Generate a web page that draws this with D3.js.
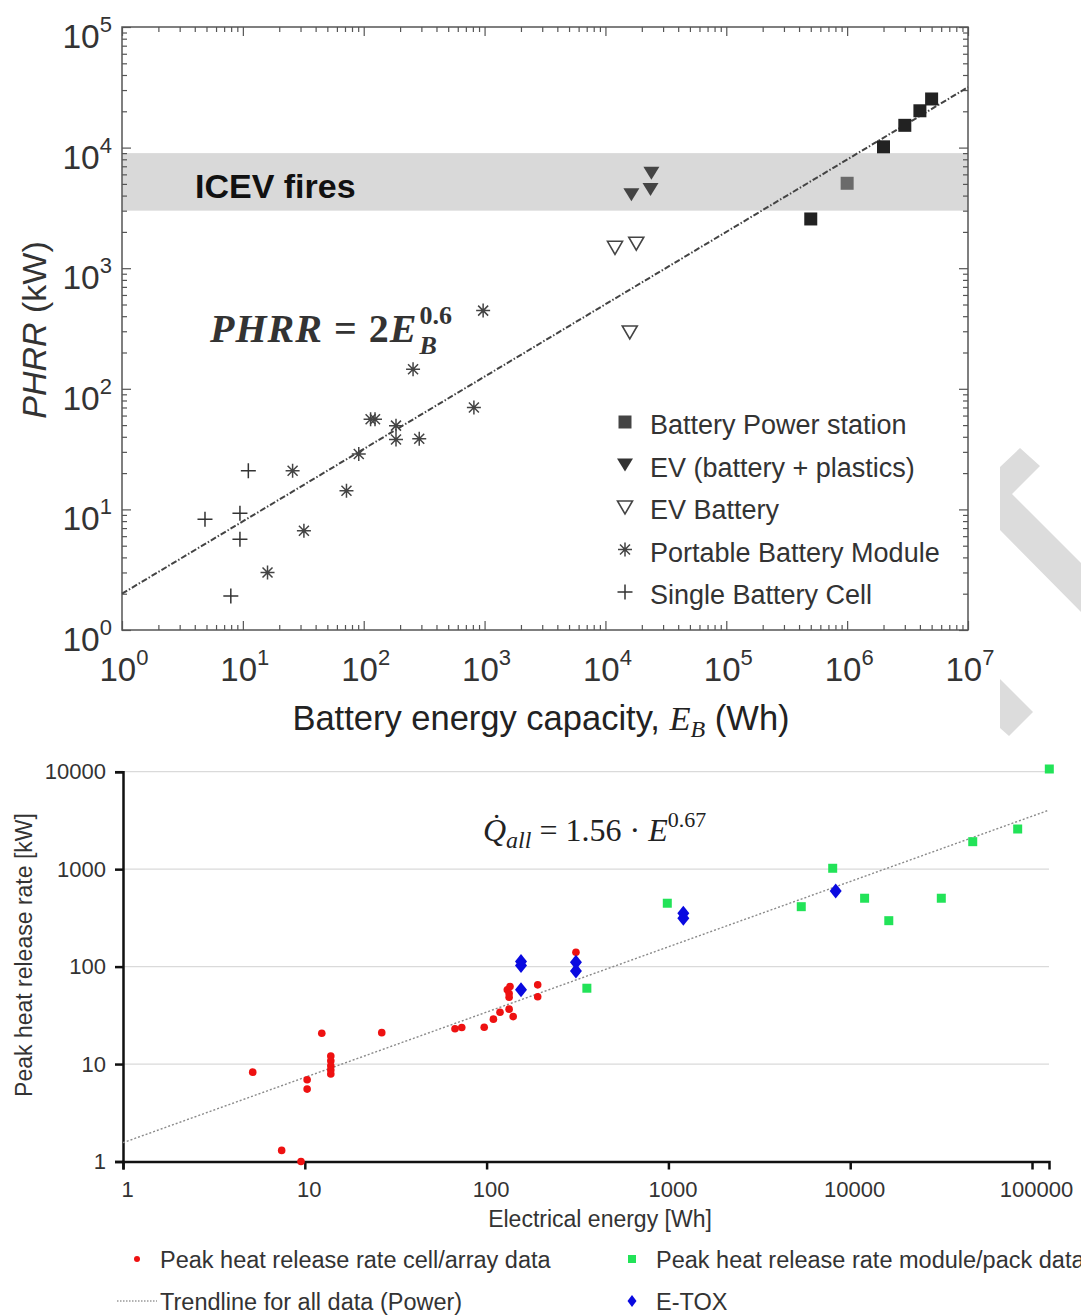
<!DOCTYPE html>
<html><head><meta charset="utf-8">
<script src="https://cdn.jsdelivr.net/npm/d3@7"></script>
<style>body{margin:0;background:#fff}</style>
</head><body>
<svg id="c" width="1081" height="1316" xmlns="http://www.w3.org/2000/svg"></svg>
<script>
// ---------- TOP CHART DATA ----------
const stationE = [5e5, 2e6, 3e6, 4e6, 5e6];
const stationP = [2560, 10150, 15300, 20200, 25300];
const stationGrayE = [1e6];
const stationGrayP = [5060];
const evPlasticE = [16400, 23600, 24000];
const evPlasticP = [4100, 4540, 6200];
const evBatteryE = [12000, 18000, 15900];
const evBatteryP = [1490, 1610, 296];
const moduleE = [973, 256, 816, 114, 124, 185, 185, 288, 91, 72, 25.8, 32, 16];
const moduleP = [445, 145, 70, 56, 56, 49.5, 38, 38.5, 28.8, 14.3, 20.9, 6.65, 3.0];
const cellE = [11.1, 4.86, 9.46, 9.46, 7.95];
const cellP = [20.9, 8.3, 9.3, 5.65, 1.91];
const icevBand = [3000, 9000];
const topFitA = 2, topFitB = 0.6;
const topXExp = [0, 1, 2, 3, 4, 5, 6, 7];
const topYExp = [0, 1, 2, 3, 4, 5];
const topLegend = ["Battery Power station", "EV (battery + plastics)", "EV Battery", "Portable Battery Module", "Single Battery Cell"];

// ---------- BOTTOM CHART DATA ----------
const cellArrE = [5.17, 7.46, 9.53, 10.3, 10.3, 12.4, 13.9, 13.9, 13.9, 13.9, 13.9, 26.5, 67, 73, 97, 109, 118.5, 133, 140, 130, 134.5, 133, 133, 191, 191, 310];
const cellArrQ = [8.26, 1.30, 1.0, 6.9, 5.53, 20.7, 12.1, 10.8, 9.6, 8.7, 7.9, 21, 23, 23.7, 23.9, 28.9, 34, 36.6, 30.7, 57.7, 62.4, 53, 48.5, 65, 49, 140.6];
const packE = [356, 986, 5380, 8010, 12000, 16300, 31700, 47200, 83400, 124500];
const packQ = [60, 447, 412, 1021, 503, 296, 503, 1914, 2582, 10660];
const etoxE = [154.6, 154.6, 154.6, 310, 310, 1208, 1208, 8320];
const etoxQ = [112.5, 102.4, 57.7, 111, 90, 353, 313, 597];
const botFitA = 1.56, botFitB = 0.67;
const botXTicks = [1, 10, 100, 1000, 10000, 100000];
const botYTicks = [1, 10, 100, 1000, 10000];
const botLegend = ["Peak heat release rate cell/array data", "Peak heat release rate module/pack data", "Trendline for all data (Power)", "E-TOX"];

const svg = d3.select("#c");
const SANS = "'Liberation Sans', Arial, Helvetica, sans-serif";
const SERIF = "'Liberation Serif', 'Times New Roman', serif";

// ================= TOP CHART =================
const tx = d3.scaleLog().domain([1, 1e7]).range([122, 968]);
const ty = d3.scaleLog().domain([1, 1e5]).range([630, 27]);
const topG = svg.append("g");

// ICEV band
topG.append("rect").attr("x", tx(1)).attr("width", tx(1e7) - tx(1))
  .attr("y", ty(icevBand[1])).attr("height", ty(icevBand[0]) - ty(icevBand[1]))
  .attr("fill", "#d9d9d9");
topG.append("text").attr("x", 195).attr("y", 198).attr("font-family", SANS)
  .attr("font-weight", "bold").attr("font-size", 34).attr("fill", "#111").text("ICEV fires");

// ticks (inward, all four sides)
function minorTicks(lo, hi) {
  const out = [];
  for (let e = lo; e < hi; e++) for (let m = 2; m <= 9; m++) out.push(m * Math.pow(10, e));
  return out;
}
const xMaj = topXExp.map(e => Math.pow(10, e));
const yMaj = topYExp.map(e => Math.pow(10, e));
const xMin = minorTicks(0, 7), yMin = minorTicks(0, 5);
function tickAxis(axisFn, scale, vals, len, tr) {
  const g = topG.append("g").attr("transform", tr)
    .call(axisFn(scale).tickValues(vals).tickSize(-len).tickFormat(""));
  g.select(".domain").remove();
  g.selectAll(".tick line").attr("stroke", "#555").attr("stroke-width", 1.2);
}
tickAxis(d3.axisBottom, tx, xMaj, 9, "translate(0,630)");
tickAxis(d3.axisBottom, tx, xMin, 5, "translate(0,630)");
tickAxis(d3.axisTop, tx, xMaj, 9, "translate(0,27)");
tickAxis(d3.axisTop, tx, xMin, 5, "translate(0,27)");
tickAxis(d3.axisLeft, ty, yMaj, 9, "translate(122,0)");
tickAxis(d3.axisLeft, ty, yMin, 5, "translate(122,0)");
tickAxis(d3.axisRight, ty, yMaj, 9, "translate(968,0)");
tickAxis(d3.axisRight, ty, yMin, 5, "translate(968,0)");
topG.append("rect").attr("x", 122).attr("y", 27).attr("width", 846).attr("height", 603)
  .attr("fill", "none").attr("stroke", "#555").attr("stroke-width", 1.5);

// tick labels
topYExp.forEach(e => {
  const t = topG.append("text").attr("x", 112).attr("y", ty(Math.pow(10, e)) + 21)
    .attr("text-anchor", "end").attr("font-family", SANS).attr("fill", "#333").attr("font-size", 33.5);
  t.append("tspan").text("10");
  t.append("tspan").attr("font-size", 22).attr("dy", -16).text(e);
});
topXExp.forEach(e => {
  const t = topG.append("text").attr("x", tx(Math.pow(10, e)) + 2).attr("y", 681)
    .attr("text-anchor", "middle").attr("font-family", SANS).attr("fill", "#333").attr("font-size", 33);
  t.append("tspan").text("10");
  t.append("tspan").attr("font-size", 22).attr("dy", -16).text(e);
});

// axis titles
const yl = topG.append("text").attr("transform", "translate(46,330) rotate(-90)")
  .attr("text-anchor", "middle").attr("font-family", SANS).attr("font-size", 34).attr("fill", "#333");
yl.append("tspan").attr("font-style", "italic").text("PHRR");
yl.append("tspan").text(" (kW)");
const xl = topG.append("text").attr("x", 541).attr("y", 730).attr("text-anchor", "middle")
  .attr("font-family", SANS).attr("font-size", 34.5).attr("fill", "#222");
xl.append("tspan").text("Battery energy capacity, ");
xl.append("tspan").attr("font-family", SERIF).attr("font-style", "italic").text("E");
xl.append("tspan").attr("font-family", SERIF).attr("font-style", "italic").attr("font-size", 24).attr("dy", 7).text("B");
xl.append("tspan").attr("dy", -7).text(" (Wh)");

// trend line
topG.append("path")
  .datum([1, 1e7].map(E => [E, topFitA * Math.pow(E, topFitB)]))
  .attr("d", d3.line().x(d => tx(d[0])).y(d => ty(d[1])))
  .attr("fill", "none").attr("stroke", "#444").attr("stroke-width", 2)
  .attr("stroke-dasharray", "6,2,1.5,2");

// marker shapes
const sqPath = "M-6.5,-6.5H6.5V6.5H-6.5Z";
const triDown = "M-8,-6L8,-6L0,7Z";
const triDownOpen = "M-7.5,-6L7.5,-6L0,7Z";
const astPath = "M-7,0H7M0,-7V7M-5,-5L5,5M-5,5L5,-5";
const plusPath = "M-7.5,0H7.5M0,-7.5V7.5";

function plotTop(E, P, d, fill, stroke, sw) {
  topG.append("g").selectAll("path").data(E.map((e, i) => [e, P[i]])).join("path")
    .attr("transform", p => `translate(${tx(p[0])},${ty(p[1])})`)
    .attr("d", d).attr("fill", fill).attr("stroke", stroke).attr("stroke-width", sw);
}
plotTop(cellE, cellP, plusPath, "none", "#333", 1.5);
plotTop(moduleE, moduleP, astPath, "none", "#444", 1.5);
plotTop(evBatteryE, evBatteryP, triDownOpen, "#fff", "#444", 1.6);
plotTop(evPlasticE, evPlasticP, triDown, "#444", "none", 0);
plotTop(stationE, stationP, sqPath, "#222", "none", 0);
plotTop(stationGrayE, stationGrayP, sqPath, "#6a6a6a", "none", 0);

// legend
const legShapes = [
  [sqPath, "#444", "none", 0],
  [triDown, "#333", "none", 0],
  [triDownOpen, "#fff", "#444", 1.6],
  [astPath, "none", "#444", 1.5],
  [plusPath, "none", "#333", 1.5]
];
const legY = d3.scalePoint().domain(topLegend).range([424, 594]);
topLegend.forEach((name, i) => {
  const y = legY(name);
  const s = legShapes[i];
  topG.append("path").attr("transform", `translate(625,${y - 2})`).attr("d", s[0])
    .attr("fill", s[1]).attr("stroke", s[2]).attr("stroke-width", s[3]);
  topG.append("text").attr("x", 650).attr("y", y + 10).attr("font-family", SANS)
    .attr("font-size", 27).attr("fill", "#333").text(name);
});

// equation
const eqX = 210, eqY = 342;
const eq = topG.append("text").attr("x", eqX).attr("y", eqY).attr("font-family", SERIF)
  .attr("font-weight", "bold").attr("font-size", 40).attr("letter-spacing", 1).attr("fill", "#333");
eq.append("tspan").attr("font-style", "italic").text("PHRR");
eq.append("tspan").text(" = 2");
eq.append("tspan").attr("font-style", "italic").text("E");
const eqW = eq.node().getComputedTextLength();
topG.append("text").attr("x", eqX + eqW + 2).attr("y", eqY + 12).attr("font-family", SERIF)
  .attr("font-weight", "bold").attr("font-style", "italic").attr("font-size", 26).attr("fill", "#333").text("B");
topG.append("text").attr("x", eqX + eqW + 2).attr("y", eqY - 18).attr("font-family", SERIF)
  .attr("font-weight", "bold").attr("font-size", 26).attr("fill", "#333").text("0.6");

// decorative watermark chevron (page artifact)
svg.append("path").attr("d", "M1000,467L1020,448L1040,466L1012,494L1081,563L1081,612L1000,530Z").attr("fill", "#dcdcdc");
svg.append("path").attr("d", "M1000,679L1033,712L1009,736L1000,728Z").attr("fill", "#dcdcdc");

// ================= BOTTOM CHART =================
const bx = d3.scaleLog().domain([1, 124000]).range([123, 1049]);
const by = d3.scaleLog().domain([1, 10000]).range([1161.5, 771.7]);
const bot = svg.append("g");

// grid
bot.append("g").selectAll("line").data(botYTicks.slice(1)).join("line")
  .attr("x1", bx(1)).attr("x2", bx(124000)).attr("y1", d => by(d)).attr("y2", d => by(d))
  .attr("stroke", "#dadada").attr("stroke-width", 1.3);

// axes
const yAx = bot.append("g").attr("transform", "translate(123,0)")
  .call(d3.axisLeft(by).tickValues(botYTicks).tickFormat(d3.format("d")).tickSize(8).tickPadding(9));
yAx.select(".domain").attr("stroke", "#111").attr("stroke-width", 2.5);
yAx.selectAll(".tick line").attr("stroke", "#111").attr("stroke-width", 2.5);
yAx.selectAll(".tick text").attr("font-family", SANS).attr("font-size", 22).attr("fill", "#333");

const xAx = bot.append("g").attr("transform", "translate(0,1161.5)")
  .call(d3.axisBottom(bx).tickValues(botXTicks).tickFormat(d3.format("d")).tickSize(8).tickPadding(12));
xAx.select(".domain").attr("stroke", "#111").attr("stroke-width", 2.5);
xAx.selectAll(".tick line").attr("stroke", "#111").attr("stroke-width", 2.5);
xAx.selectAll(".tick text").attr("font-family", SANS).attr("font-size", 22).attr("fill", "#333").attr("dx", 4);

bot.append("text").attr("x", 600).attr("y", 1227).attr("text-anchor", "middle")
  .attr("font-family", SANS).attr("font-size", 23).attr("fill", "#333").text("Electrical energy [Wh]");
bot.append("text").attr("transform", "translate(32,955) rotate(-90)").attr("text-anchor", "middle")
  .attr("font-family", SANS).attr("font-size", 23).attr("fill", "#333").text("Peak heat release rate [kW]");

// trendline
bot.append("path")
  .datum([1, 124000].map(E => [E, botFitA * Math.pow(E, botFitB)]))
  .attr("d", d3.line().x(d => bx(d[0])).y(d => by(d[1])))
  .attr("fill", "none").attr("stroke", "#8a8a8a").attr("stroke-width", 1.4)
  .attr("stroke-dasharray", "2,2");

// points
bot.append("g").selectAll("circle").data(cellArrE.map((e, i) => [e, cellArrQ[i]])).join("circle")
  .attr("cx", d => bx(d[0])).attr("cy", d => by(d[1])).attr("r", 3.8).attr("fill", "#ee1111");
bot.append("g").selectAll("path").data(packE.map((e, i) => [e, packQ[i]])).join("path")
  .attr("transform", d => `translate(${bx(d[0])},${by(d[1])})`)
  .attr("d", "M-4.5,-4.5H4.5V4.5H-4.5Z").attr("fill", "#22e358");
const diam = "M0,-7.5L6,0L0,7.5L-6,0Z";
bot.append("g").selectAll("path").data(etoxE.map((e, i) => [e, etoxQ[i]])).join("path")
  .attr("transform", d => `translate(${bx(d[0])},${by(d[1])})`)
  .attr("d", diam).attr("fill", "#0a0ae0");

// equation
const bq = bot.append("text").attr("x", 483).attr("y", 841).attr("font-family", SERIF)
  .attr("font-size", 32).attr("fill", "#222");
bq.append("tspan").attr("font-style", "italic").text("Q\u0307");
bq.append("tspan").attr("font-style", "italic").attr("font-size", 24).attr("dy", 7).text("all");
bq.append("tspan").attr("dy", -7).text(" = 1.56 \u00b7 ");
bq.append("tspan").attr("font-style", "italic").text("E");
bq.append("tspan").attr("font-size", 22).attr("dy", -14).text("0.67");

// legend
const lg = bot.append("g").attr("font-family", SANS).attr("font-size", 23.5).attr("fill", "#333");
lg.append("circle").attr("cx", 137).attr("cy", 1259).attr("r", 3).attr("fill", "#ee1111");
lg.append("text").attr("x", 160).attr("y", 1268).text(botLegend[0]);
lg.append("rect").attr("x", 628).attr("y", 1255).attr("width", 8).attr("height", 8).attr("fill", "#22e358");
lg.append("text").attr("x", 656).attr("y", 1268).text(botLegend[1]);
lg.append("line").attr("x1", 117).attr("x2", 157).attr("y1", 1301).attr("y2", 1301)
  .attr("stroke", "#999").attr("stroke-width", 1.3).attr("stroke-dasharray", "1.5,1.5");
lg.append("text").attr("x", 160).attr("y", 1310).text(botLegend[2]);
lg.append("path").attr("transform", "translate(632,1301)").attr("d", "M0,-6L4.5,0L0,6L-4.5,0Z").attr("fill", "#0a0ae0");
lg.append("text").attr("x", 656).attr("y", 1310).text(botLegend[3]);
</script>
</body></html>
